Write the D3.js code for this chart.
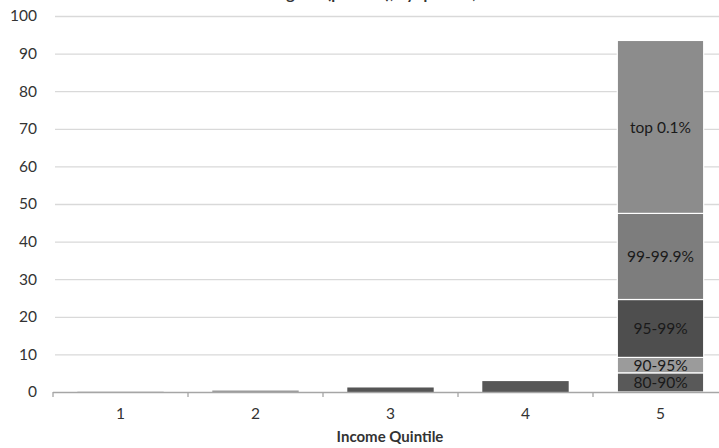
<!DOCTYPE html>
<html><head><meta charset="utf-8">
<script src="https://cdn.jsdelivr.net/npm/d3@7"></script>
<style>html,body{margin:0;padding:0;background:#fff;overflow:hidden}</style>
</head><body>
<svg id="c" width="719" height="448"></svg>
<script>
const quintiles = ["1","2","3","4","5"];
const quintileValues = [0.05, 0.4, 1.2, 2.9, null];
const topGroups = ["80-90%","90-95%","95-99%","99-99.9%","top 0.1%"];
const topValues = [5.1, 4.1, 15.4, 22.9, 46.0];
const yTicks = [0,10,20,30,40,50,60,70,80,90,100];
const xTitle = "Income Quintile";
const chartTitle = "Share of gains (percent), by quintile, 1979-2007";

const font = "Lato, 'Open Sans', sans-serif";
const svg = d3.select("#c");
const m = {l:53, r:-9};
const W = 719;
const x = d3.scaleBand().domain(quintiles).range([m.l, W - m.r]).paddingInner(0.36).paddingOuter(0.18);
const y = d3.scaleLinear().domain([0,100]).range([392, 16]);

// clipped title (cut off at top edge, as in reference)
svg.append("text").attr("x", 392).attr("y", -1).attr("text-anchor","middle")
  .attr("font-family", font).attr("font-weight","bold").attr("font-size",16).attr("fill","#333").text(chartTitle);

// gridlines
svg.append("g").selectAll("line").data(yTicks.filter(d=>d>0)).join("line")
  .attr("x1", m.l+2).attr("x2", W).attr("y1", d=>y(d)+0.5).attr("y2", d=>y(d)+0.5)
  .attr("stroke","#d9d9d9").attr("stroke-width",1.3);

// y labels
svg.append("g").selectAll("text").data(yTicks).join("text")
  .attr("x", 37).attr("y", d=>y(d)).attr("dy","0.35em").attr("text-anchor","end")
  .attr("font-family", font).attr("font-size",15.5).attr("fill","#333").text(d=>d);

// quintile bars 1-4
const qColors = ["#666","#9a9a9a","#555","#575757"];
svg.append("g").selectAll("rect").data(quintiles.slice(0,4)).join("rect")
  .attr("x", d=>x(d)).attr("width", x.bandwidth())
  .attr("y", (d,i)=>y(quintileValues[i])).attr("height",(d,i)=>y(0)-y(quintileValues[i]))
  .attr("fill",(d,i)=>qColors[i]);

// stacked top quintile
const segColors = ["#595959","#9b9b9b","#4e4e4e","#7d7d7d","#8c8c8c"];
let cum = 0;
const segs = topValues.map((v,i)=>{const s={name:topGroups[i], y0:cum, y1:cum+v, c:segColors[i]}; cum+=v; return s;});
const g5 = svg.append("g");
g5.selectAll("rect").data(segs).join("rect")
  .attr("x", x("5")).attr("width", x.bandwidth())
  .attr("y", d=>y(d.y1)).attr("height", d=>y(d.y0)-y(d.y1))
  .attr("fill", d=>d.c).attr("stroke","#fff").attr("stroke-width",1.2);
g5.selectAll("text").data(segs).join("text")
  .attr("x", x("5")+x.bandwidth()/2).attr("y", d=>(y(d.y0)+y(d.y1))/2).attr("dy","0.36em")
  .attr("text-anchor","middle").attr("font-family", font).attr("font-size",15.5).attr("fill","#1a1a1a")
  .text(d=>d.name);

// x axis baseline and ticks
const step = x.step();
const bounds = quintiles.map(q=>x(q) - (step - x.bandwidth())/2);
svg.append("line").attr("x1", m.l).attr("x2", W).attr("y1", 392.5).attr("y2", 392.5)
  .attr("stroke","#a6a6a6").attr("stroke-width",1.3);
svg.append("g").selectAll("line").data(bounds).join("line")
  .attr("x1", d=>d).attr("x2", d=>d).attr("y1", 392).attr("y2", 397)
  .attr("stroke","#a6a6a6").attr("stroke-width",1.3);
svg.append("g").selectAll("text").data(quintiles).join("text")
  .attr("x", d=>x(d)+x.bandwidth()/2).attr("y", 414).attr("dy","0.35em").attr("text-anchor","middle")
  .attr("font-family", font).attr("font-size",15.5).attr("fill","#333").text(d=>d);
svg.append("text").attr("x", 390).attr("y", 437).attr("dy","0.35em").attr("text-anchor","middle")
  .attr("font-family", font).attr("font-weight","bold").attr("font-size",15).attr("fill","#333").text(xTitle);
</script>
</body></html>
